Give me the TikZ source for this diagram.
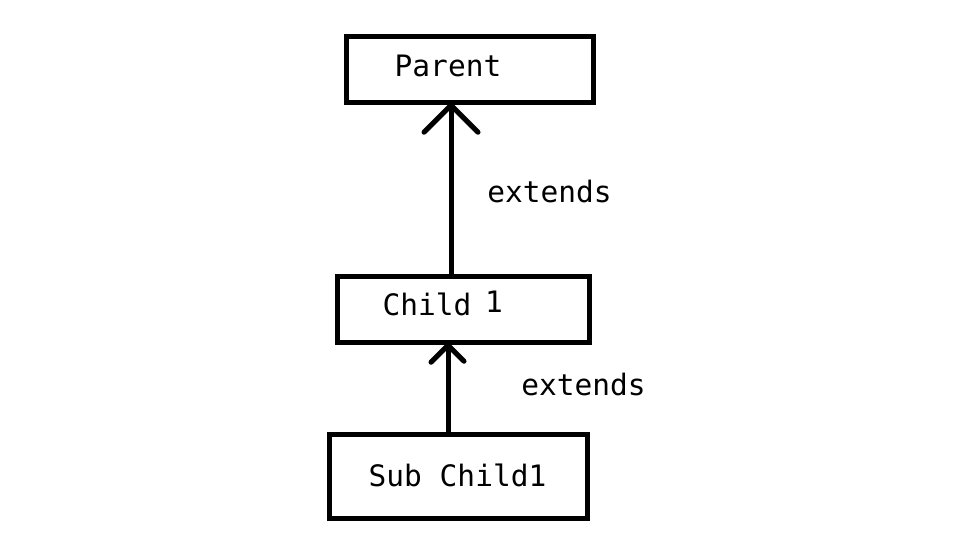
\documentclass[tikz,border=0pt]{standalone}
\usepackage{fontspec}
\setmonofont{DejaVu Sans Mono}
\begin{document}
\begin{tikzpicture}[x=1pt,y=1pt,
  boxnode/.style={draw=black,line width=5.5pt,inner sep=0pt,fill=white},
  txt/.style={font=\fontsize{29.5}{31}\selectfont\ttfamily,inner sep=0pt,anchor=base},
  conn/.style={line width=5pt,line cap=round,line join=round}]
\useasboundingbox[fill=white] (0,0) rectangle (972,550);
\node[boxnode,minimum width=247pt,minimum height=66pt] (parent) at (470,480.5) {};
\node[boxnode,minimum width=252pt,minimum height=66pt] (child) at (463.5,240.5) {};
\node[boxnode,minimum width=258pt,minimum height=84pt] (sub) at (458.5,73.5) {};
\node[txt] (tparent) at (448,473.3) {Parent};
\node[txt] (tchild) at (427,235) {Child};
\node[txt] (tone) at (494,238) {1};
\node[txt] (tsub) at (457.5,63.3) {Sub Child1};
\node[txt] (ext1) at (549.5,347.7) {extends};
\node[txt] (ext2) at (583.5,155) {extends};
\coordinate (a1) at (451,0);
\coordinate (a2) at (448,0);
\draw[conn] (child.north -| a1) -- (parent.south -| a1);
\draw[conn] (parent.south -| a1) ++(-27,-27) -- (parent.south -| a1) -- ++(27,-27);
\draw[conn] (sub.north -| a2) -- (child.south -| a2);
\draw[conn] (child.south -| a2) ++(-17,-17) -- (child.south -| a2) -- ++(16,-16);
\end{tikzpicture}
\end{document}
